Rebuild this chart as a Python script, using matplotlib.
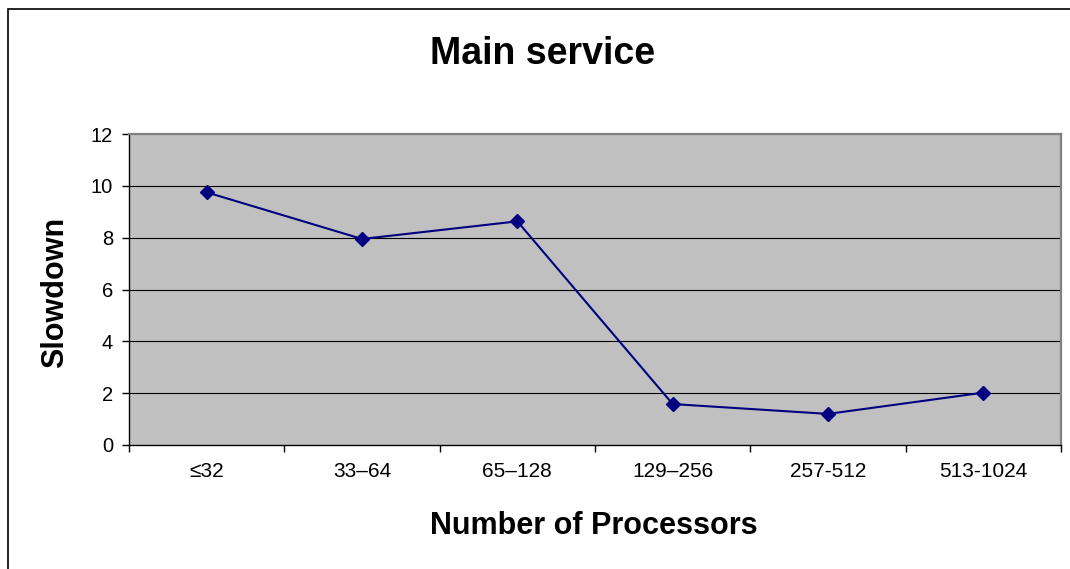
import matplotlib
matplotlib.use("Agg")
import matplotlib.pyplot as plt
from matplotlib.patches import Rectangle

# values
categories = ["≤32", "33–64", "65–128", "129–256", "257-512", "513-1024"]
slowdown = [9.75, 7.95, 8.63, 1.58, 1.2, 2.02]
y_ticks = [0, 2, 4, 6, 8, 10, 12]

plt.rcParams['font.family'] = ['Liberation Sans', 'DejaVu Sans']

W, H = 1070, 569
fig = plt.figure(figsize=(W / 100, H / 100), dpi=100)
ax = fig.add_axes([129 / W, 1 - 445 / H, (1061 - 129) / W, (445 - 134) / H])

ax.set_facecolor('#C0C0C0')
x = list(range(len(categories)))
ax.plot(x, slowdown, color='#000080', linewidth=1.5, marker='D',
        markersize=7, markerfacecolor='#000080', markeredgecolor='#000080',
        zorder=3)

ax.set_xlim(-0.5, len(categories) - 0.5)
ax.set_ylim(0, 12)
ax.set_yticks(y_ticks)
ax.set_yticklabels([str(v) for v in y_ticks], fontsize=14.5)
for v in y_ticks[1:-1]:
    ax.axhline(v, color='black', linewidth=0.8, zorder=1)

# ticks between categories, labels centred under each category
ax.set_xticks([i - 0.5 for i in range(len(categories) + 1)])
ax.set_xticklabels([])
ax.set_xticks(x, minor=True)
ax.set_xticklabels(categories, minor=True, fontsize=15)
ax.tick_params(axis='x', which='major', direction='out', length=5, width=1, color='black')
ax.tick_params(axis='x', which='minor', length=0, pad=12)
ax.tick_params(axis='y', direction='out', length=5, width=1, color='black', pad=6.5)

for side in ['top', 'right']:
    ax.spines[side].set_color('#808080')
    ax.spines[side].set_linewidth(1.6)
for side in ['left', 'bottom']:
    ax.spines[side].set_color('black')
    ax.spines[side].set_linewidth(1.0)

fig.text(543 / W, 1 - 54 / H, "Main service", fontsize=27, fontweight='bold',
         ha='center', va='center')
fig.text(594 / W, 1 - 526 / H, "Number of Processors", fontsize=22, fontweight='bold',
         ha='center', va='center')
fig.text(55 / W, 1 - 292 / H, "Slowdown", fontsize=22, fontweight='bold',
         ha='center', va='center', rotation=90)

# chart frame (only left and top edges are inside the picture)
fig.patches.append(Rectangle((8 / W, -0.1), 1.2, 1.1 - 9 / H, transform=fig.transFigure,
                             fill=False, edgecolor='black', linewidth=1.2))

fig.savefig("out.png", dpi=100)
